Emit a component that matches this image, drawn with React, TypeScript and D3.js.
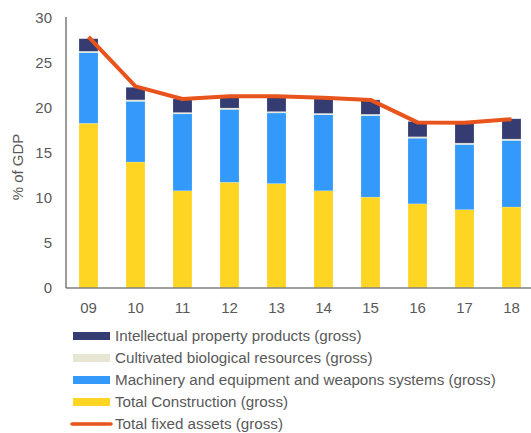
import React, { useRef, useEffect } from "react";
import * as d3 from "d3";

const years = ["09", "10", "11", "12", "13", "14", "15", "16", "17", "18"];
const construction = [18.3, 14.0, 10.8, 11.75, 11.6, 10.8, 10.1, 9.35, 8.7, 9.0];
const machinery = [7.85, 6.75, 8.55, 8.1, 7.85, 8.45, 9.05, 7.3, 7.25, 7.4];
const cultivated = [0.15, 0.15, 0.15, 0.15, 0.15, 0.15, 0.15, 0.15, 0.15, 0.15];
const intellectual = [1.4, 1.4, 1.5, 1.3, 1.7, 1.7, 1.6, 1.7, 2.2, 2.25];
const totalFixed = [27.9, 22.4, 21.0, 21.3, 21.3, 21.15, 20.9, 18.4, 18.35, 18.75];
const yTicks = [0, 5, 10, 15, 20, 25, 30];

const series = [
  { key: "construction", label: "Total Construction (gross)", values: construction, color: "#FFD524" },
  { key: "machinery", label: "Machinery and equipment and weapons systems (gross)", values: machinery, color: "#3399FA" },
  { key: "cultivated", label: "Cultivated biological resources (gross)", values: cultivated, color: "#E6E6D2" },
  { key: "intellectual", label: "Intellectual property products (gross)", values: intellectual, color: "#343C72" },
];
const lineColor = "#E8541C";
const textColor = "#595959";

const App = () => {
  const ref = useRef<SVGSVGElement>(null);

  useEffect(() => {
    const svg = d3.select(ref.current);
    svg.selectAll("*").remove();
    const font = "'Liberation Sans', Arial, sans-serif";

    const x = d3
      .scaleBand()
      .domain(years)
      .range([66, 534])
      .paddingInner(0.596)
      .paddingOuter(0.277);
    const y = d3.scaleLinear().domain([0, 30]).range([288, 18]);

    // stacked bars
    const rows = years.map((yr, i) => {
      const r: any = { year: yr };
      series.forEach((s) => (r[s.key] = s.values[i]));
      return r;
    });
    const stack = d3.stack().keys(series.map((s) => s.key));
    const stacked = stack(rows);

    stacked.forEach((layer, li) => {
      svg
        .append("g")
        .selectAll("rect")
        .data(layer)
        .enter()
        .append("rect")
        .attr("x", (d: any) => x(d.data.year)!)
        .attr("width", x.bandwidth())
        .attr("y", (d) => y(d[1]))
        .attr("height", (d) => y(d[0]) - y(d[1]))
        .attr("fill", series[li].color)
        .attr("stroke", "#ffffff")
        .attr("stroke-opacity", 0.35)
        .attr("stroke-width", 0.5);
    });

    // axes
    svg
      .append("line")
      .attr("x1", 66)
      .attr("x2", 531)
      .attr("y1", y(0))
      .attr("y2", y(0))
      .attr("stroke", "#7f7f7f")
      .attr("stroke-width", 1.5);
    svg
      .append("line")
      .attr("x1", 66)
      .attr("x2", 66)
      .attr("y1", y(30) - 1)
      .attr("y2", y(0))
      .attr("stroke", "#595959")
      .attr("stroke-width", 1.2);

    svg
      .append("g")
      .selectAll("text")
      .data(yTicks)
      .enter()
      .append("text")
      .attr("x", 52)
      .attr("y", (d) => y(d))
      .attr("dy", "0.36em")
      .attr("text-anchor", "end")
      .style("font-family", font)
      .style("font-size", "15px")
      .style("fill", textColor)
      .text((d) => d);

    svg
      .append("g")
      .selectAll("text")
      .data(years)
      .enter()
      .append("text")
      .attr("x", (d) => x(d)! + x.bandwidth() / 2)
      .attr("y", 308)
      .attr("dy", "0.36em")
      .attr("text-anchor", "middle")
      .style("font-family", font)
      .style("font-size", "15px")
      .style("fill", textColor)
      .text((d) => d);

    svg
      .append("text")
      .attr("transform", "translate(18,167) rotate(-90)")
      .attr("text-anchor", "middle")
      .attr("dy", "0.36em")
      .style("font-family", font)
      .style("font-size", "15px")
      .style("fill", textColor)
      .text("% of GDP");

    // total line
    const line = d3
      .line<number>()
      .x((_, i) => x(years[i])! + x.bandwidth() / 2)
      .y((d) => y(d));
    svg
      .append("path")
      .datum(totalFixed)
      .attr("d", line)
      .attr("fill", "none")
      .attr("stroke", lineColor)
      .attr("stroke-width", 4)
      .attr("stroke-linejoin", "round");

    // legend
    const legendItems = [...series].reverse();
    const lg = svg.append("g");
    const legendFont = "15.2px";
    legendItems.forEach((s, i) => {
      const cy = 336 + i * 22;
      lg.append("rect")
        .attr("x", 73)
        .attr("y", cy - 4)
        .attr("width", 37)
        .attr("height", 8)
        .attr("fill", s.color);
      lg.append("text")
        .attr("x", 115)
        .attr("y", cy)
        .attr("dy", "0.36em")
        .style("font-family", font)
        .style("font-size", legendFont)
        .style("fill", textColor)
        .text(s.label);
    });
    const ly = 336 + 4 * 22;
    lg.append("line")
      .attr("x1", 72)
      .attr("x2", 111)
      .attr("y1", ly)
      .attr("y2", ly)
      .attr("stroke", lineColor)
      .attr("stroke-width", 3.5)
      .attr("stroke-linecap", "round");
    lg.append("text")
      .attr("x", 115)
      .attr("y", ly)
      .attr("dy", "0.36em")
      .style("font-family", font)
      .style("font-size", legendFont)
      .style("fill", textColor)
      .text("Total fixed assets (gross)");
  }, []);

  return (
    <svg
      ref={ref}
      width={531}
      height={433}
      style={{ position: "absolute", left: 0, top: 0, background: "#fff" }}
    />
  );
};

export default App;
